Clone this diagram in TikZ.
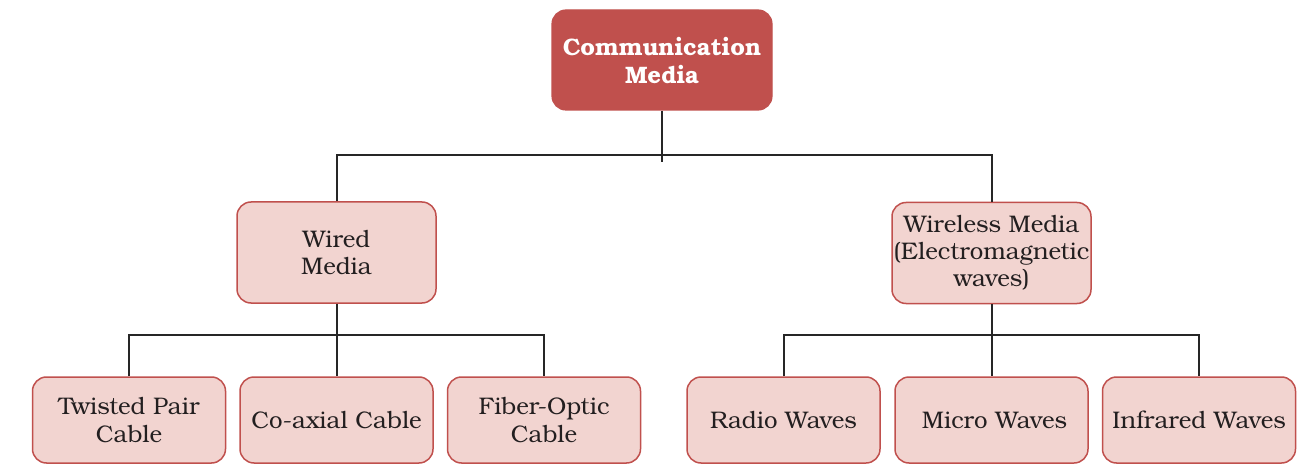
\documentclass[tikz,border=0pt]{standalone}
\usepackage{fontspec}
\setmainfont{texgyrebonum}[Extension=.otf, UprightFont=*-regular, BoldFont=*-bold, ItalicFont=*-italic, BoldItalicFont=*-bolditalic]
\definecolor{darkred}{HTML}{C0504D}
\definecolor{lightred}{HTML}{F2D4D0}
\definecolor{ink}{HTML}{231F20}
\begin{document}
\begin{tikzpicture}[x=1pt,y=-1pt,
  topbox/.style={draw=darkred, fill=darkred, rounded corners=14pt, line width=1.2pt,
    minimum width=220pt, minimum height=100pt, align=center, text=white,
    font=\fontsize{23.8}{28}\selectfont\bfseries, inner sep=0pt},
  midbox/.style={draw=darkred, fill=lightred, rounded corners=14pt, line width=1.5pt,
    minimum width=199pt, minimum height=101pt, align=center, text=ink,
    font=\fontsize{24}{27}\selectfont, inner sep=0pt},
  leafbox/.style={draw=darkred, fill=lightred, rounded corners=14pt, line width=1.5pt,
    minimum width=193pt, minimum height=86pt, align=center, text=ink,
    font=\fontsize{24}{28}\selectfont, inner sep=0pt},
  link/.style={draw=black!85, line width=2pt}]
\useasboundingbox (0,0) rectangle (1301,465);

\node[topbox] (top) at (662,60) {Communication\\Media};

\node[midbox] (wired) at (336.5,252.5) {Wired\\Media};
\node[midbox] (wireless) at (991.5,253) {Wireless Media\\(Electromagnetic\\waves)};

\node[leafbox] (twisted) at (129,420) {Twisted Pair\\Cable};
\node[leafbox] (coax) at (336.5,420) {Co-axial Cable};
\node[leafbox] (fiber) at (544,420) {Fiber-Optic\\Cable};
\node[leafbox] (radio) at (783.5,420) {Radio Waves};
\node[leafbox] (micro) at (991.5,420) {\hspace*{6pt}Micro Waves};
\node[leafbox] (infra) at (1199,420) {Infrared Waves};

\coordinate (bus1) at (662,155);
\coordinate (stub) at (662,162);
\coordinate (bus2) at (336.5,335);
\coordinate (bus3) at (991.5,335);

\draw[link] (top.south) -- (stub);
\draw[link] (wired.north) |- (bus1) -| (wireless.north);

\draw[link] (wired.south) -- (coax.north);
\draw[link] (twisted.north) |- (bus2) -| (fiber.north);

\draw[link] (wireless.south) -- (micro.north);
\draw[link] (radio.north) |- (bus3) -| (infra.north);
\end{tikzpicture}
\end{document}
